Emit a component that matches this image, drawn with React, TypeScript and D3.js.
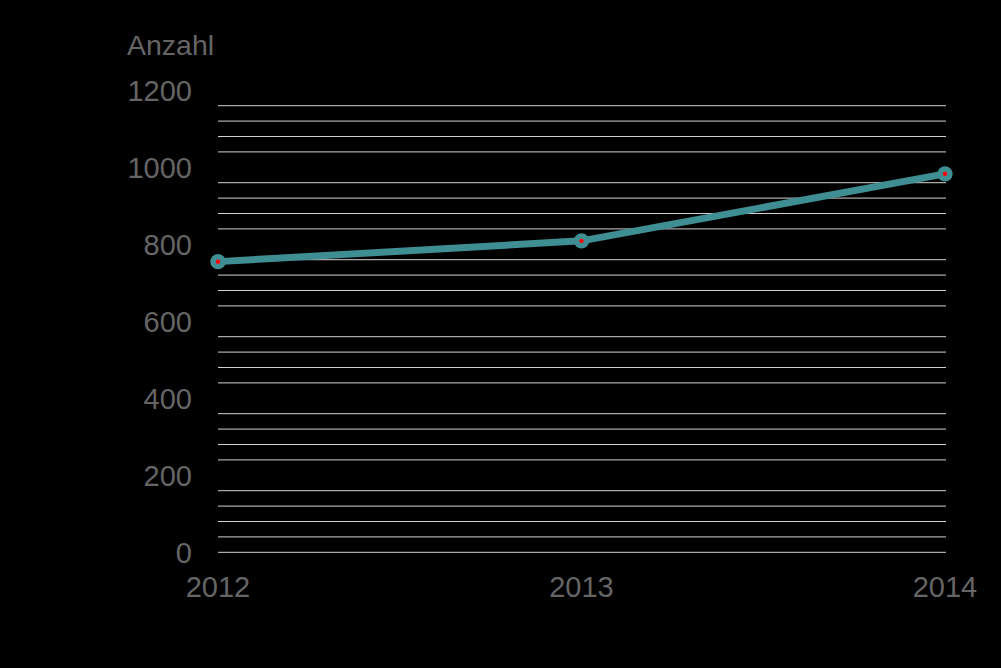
import React from "react";
import * as d3 from "d3";

const years = ["2012", "2013", "2014"];
const values = [755, 809, 983];
const yTicks = [0, 200, 400, 600, 800, 1000, 1200];
const gridValues = d3.range(0, 1200, 40).filter((v) => v === 0 || v % 200 !== 0);

export default function App() {
  const width = 1001;
  const height = 668;
  const x = d3.scalePoint<string>().domain(years).range([218, 945]);
  const y = d3.scaleLinear().domain([0, 1200]).range([552.3, 90.3]);
  const line = d3
    .line<number>()
    .x((_, i) => x(years[i]) as number)
    .y((d) => y(d));
  const font = "'Liberation Sans', Arial, sans-serif";
  const textColor = "#656565";
  return (
    <div style={{ position: "absolute", left: 0, top: 0 }}>
      <svg width={width} height={height} style={{ display: "block", background: "#000" }}>
        <rect x={0} y={0} width={width} height={height} fill="#000" />
        {gridValues.map((v) => (
          <line key={v} x1={218} x2={946} y1={y(v)} y2={y(v)} stroke="#d2d2d2" strokeWidth={1} />
        ))}
        {yTicks.map((t) => (
          <text
            key={t}
            x={192}
            y={y(t)}
            dy="0.36em"
            textAnchor="end"
            fontFamily={font}
            fontSize={29}
            fill={textColor}
          >
            {t}
          </text>
        ))}
        <text x={127} y={55} fontFamily={font} fontSize={28.5} fill={textColor}>
          Anzahl
        </text>
        {years.map((yr) => (
          <text
            key={yr}
            x={x(yr)}
            y={597}
            textAnchor="middle"
            fontFamily={font}
            fontSize={29}
            fill={textColor}
          >
            {yr}
          </text>
        ))}
        <path d={line(values) || ""} fill="none" stroke="#3f8e94" strokeWidth={7} strokeLinejoin="round" />
        {values.map((v, i) => (
          <g key={i}>
            <circle cx={x(years[i])} cy={y(v)} r={7.7} fill="#3f8e94" />
            <circle cx={x(years[i])} cy={y(v)} r={2.2} fill="#ff0000" />
          </g>
        ))}
      </svg>
    </div>
  );
}
